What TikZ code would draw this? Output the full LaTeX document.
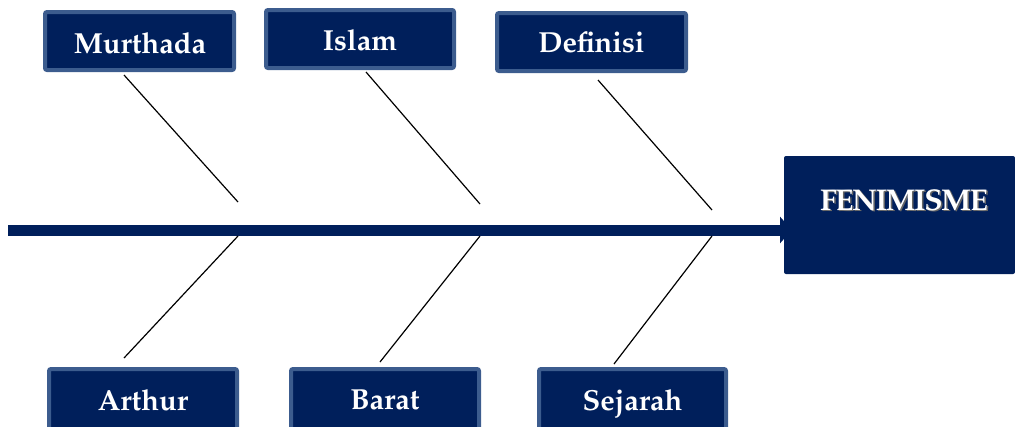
\documentclass[tikz,border=0pt]{standalone}
\usepackage[T1]{fontenc}
\usetikzlibrary{arrows.meta}
\definecolor{navy}{HTML}{001F5B}
\definecolor{edgeblue}{HTML}{3C5C8E}
\newcommand{\palbold}[1]{\fontencoding{T1}\fontfamily{ppl}\fontseries{b}\fontsize{#1}{30}\selectfont}
\begin{document}
\begin{tikzpicture}[x=1pt,y=-1pt,
  cause/.style={draw=edgeblue,line width=4pt,fill=navy,rounded corners=2pt},
  lbl/.style={text=white,font=\palbold{29},anchor=center},
  bone/.style={draw=black,line width=1.2pt},
  spine/.style={draw=navy,line width=11pt,-{Triangle[length=12pt,width=26pt]}}]
\useasboundingbox (0,0) rectangle (1015,426);
\clip (0,0) rectangle (1015,426);
% spine
\coordinate (tail) at (8,230);
\coordinate (head) at (792,230);
\draw[spine] (tail) -- (head);
% effect box
\node[fill=navy,rounded corners=2pt,minimum width=231pt,minimum height=118pt,inner sep=0pt] (effect) at (899.5,215) {};
\node[text=black!60,font=\palbold{30}] at (905.5,201.5) {F\kern-1.5ptE\kern-1.5ptN\kern-1.5ptI\kern-1.5ptM\kern-1.5ptI\kern-1.5ptS\kern-1.5ptM\kern-1.5ptE};
\node[text=white,font=\palbold{30}] (effectlbl) at (904,200) {F\kern-1.5ptE\kern-1.5ptN\kern-1.5ptI\kern-1.5ptM\kern-1.5ptI\kern-1.5ptS\kern-1.5ptM\kern-1.5ptE};
% top boxes
\path[cause] (45,12) rectangle (234,70);
\node[lbl] (murthada) at (140,43) {Murthada};
\path[cause] (266,10) rectangle (454,68);
\node[lbl] (islam) at (360,40) {Islam};
\path[cause] (497,13) rectangle (686,71);
\node[lbl] (definisi) at (591.5,42) {Definisi};
% bottom boxes
\path[cause] (49,369) rectangle (237,440);
\node[lbl] (arthur) at (143,400) {Arthur};
\path[cause] (291,369) rectangle (479,440);
\node[lbl] (barat) at (385,400) {Barat};
\path[cause] (539,369) rectangle (726,440);
\node[lbl] (sejarah) at (632.5,403.5) {Sejarah};
% bones
\coordinate (m1) at (124,75);  \coordinate (m2) at (238,202);
\coordinate (i1) at (366,72);  \coordinate (i2) at (480,204);
\coordinate (d1) at (598,80);  \coordinate (d2) at (712,210);
\coordinate (a1) at (238,236); \coordinate (a2) at (124,358);
\coordinate (b1) at (480,236); \coordinate (b2) at (380,362);
\coordinate (s1) at (712,236); \coordinate (s2) at (614,364);
\draw[bone] (m1) -- (m2);
\draw[bone] (i1) -- (i2);
\draw[bone] (d1) -- (d2);
\draw[bone] (a1) -- (a2);
\draw[bone] (b1) -- (b2);
\draw[bone] (s1) -- (s2);
\end{tikzpicture}
\end{document}
